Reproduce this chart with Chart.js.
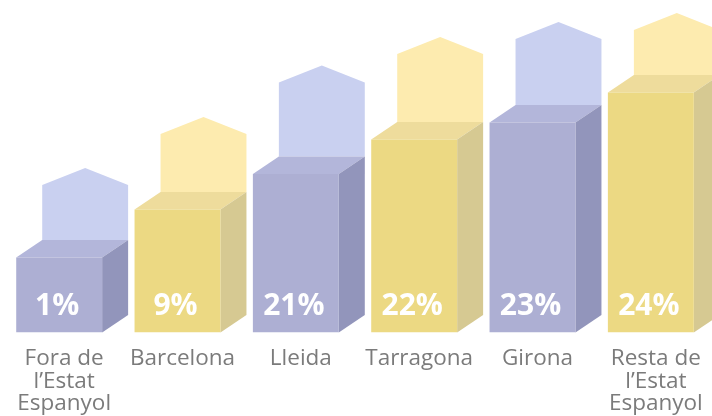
<!DOCTYPE html>
<html>
<head>
<meta charset="utf-8">
<script src="https://cdn.jsdelivr.net/npm/chart.js@4/dist/chart.umd.min.js"></script>
<style>
  html, body { margin: 0; padding: 0; background: #ffffff; }
  #wrap { width: 712px; height: 416px; position: relative; }
</style>
</head>
<body>
<div id="wrap"><canvas id="c"></canvas></div>
<script>
// Categories (x-axis labels)
const categories = [
  ["Fora de", "l\u2019Estat", "Espanyol"],
  "Barcelona",
  "Lleida",
  "Tarragona",
  "Girona",
  ["Resta de", "l\u2019Estat", "Espanyol"]
];
// Percent labels shown on the bars
const percentLabels = ["1%", "9%", "21%", "22%", "23%", "24%"];
// Visual bar heights (infographic units)
const barHeights = [7.5, 12.3, 15.85, 19.3, 21.0, 24.0];
// Height of the "house" shape behind each bar (same units)
const houseHeights = [5.5, 5.8, 7.4, 6.8, 6.6, 4.5];
const yMax = 33.25;

const palettes = [
  { front: "#ADAFD3", side: "#9295BB", top: "#B3B6DA", house: "#C9D0F0" },
  { front: "#ECD983", side: "#D6C992", top: "#EEDC9C", house: "#FDEBAF" }
];
const colorIdx = categories.map((c, i) => i % 2);

const DX = 26, DY = 17.5, ROOF = 17;

const cubePlugin = {
  id: "cube",
  beforeDatasetsDraw(chart) {
    const ctx = chart.ctx;
    const y = chart.scales.y;
    const meta = chart.getDatasetMeta(0);
    meta.data.forEach((bar, i) => {
      const p = palettes[colorIdx[i]];
      const half = bar.width / 2;
      const L = bar.x - half, R = bar.x + half;
      const T = bar.y;
      // house behind (starts at top back edge)
      const hb = T - DY;
      const hs = y.getPixelForValue(barHeights[i] + houseHeights[i]) - DY;
      ctx.save();
      ctx.fillStyle = p.house;
      ctx.beginPath();
      ctx.moveTo(L + DX, hb);
      ctx.lineTo(L + DX, hs);
      ctx.lineTo(bar.x + DX, hs - ROOF);
      ctx.lineTo(R + DX, hs);
      ctx.lineTo(R + DX, hb);
      ctx.closePath();
      ctx.fill();
      // top face
      ctx.fillStyle = p.top;
      ctx.beginPath();
      ctx.moveTo(L, T);
      ctx.lineTo(R, T);
      ctx.lineTo(R + DX, T - DY);
      ctx.lineTo(L + DX, T - DY);
      ctx.closePath();
      ctx.fill();
      // side face
      ctx.fillStyle = p.side;
      ctx.beginPath();
      ctx.moveTo(R, T);
      ctx.lineTo(R + DX, T - DY);
      ctx.lineTo(R + DX, bar.base - DY);
      ctx.lineTo(R, bar.base);
      ctx.closePath();
      ctx.fill();
      ctx.restore();
    });
  },
  afterDatasetsDraw(chart) {
    const ctx = chart.ctx;
    const meta = chart.getDatasetMeta(0);
    ctx.save();
    ctx.fillStyle = "#ffffff";
    ctx.font = "bold 30px 'Open Sans'";
    ctx.textAlign = "center";
    ctx.textBaseline = "alphabetic";
    meta.data.forEach((bar, i) => {
      ctx.fillText(percentLabels[i], bar.x - 2, bar.base - 17.5);
    });
    ctx.restore();
  }
};

new Chart(document.getElementById("c"), {
  type: "bar",
  data: {
    labels: categories,
    datasets: [{
      data: barHeights,
      backgroundColor: colorIdx.map(k => palettes[k].front),
      borderWidth: 0,
      categoryPercentage: 1,
      barPercentage: 0.726
    }]
  },
  options: {
    responsive: true,
    maintainAspectRatio: false,
    animation: false,
    layout: { padding: { left: 0, right: 2, top: 0, bottom: 0 } },
    plugins: { legend: { display: false }, tooltip: { enabled: false } },
    scales: {
      x: {
        grid: { display: false, drawTicks: false },
        border: { display: false },
        ticks: {
          color: "#7b7b7b",
          font: { family: "'Open Sans'", size: 22.5, lineHeight: 1.0 },
          padding: 15,
          labelOffset: 5,
          maxRotation: 0,
          autoSkip: false
        },
        afterFit(scale) {
          scale.height = 83.5;
          scale.paddingLeft = 0;
          scale.paddingRight = 0;
        }
      },
      y: {
        display: false,
        min: 0,
        max: yMax
      }
    }
  },
  plugins: [cubePlugin]
});
</script>
</body>
</html>
